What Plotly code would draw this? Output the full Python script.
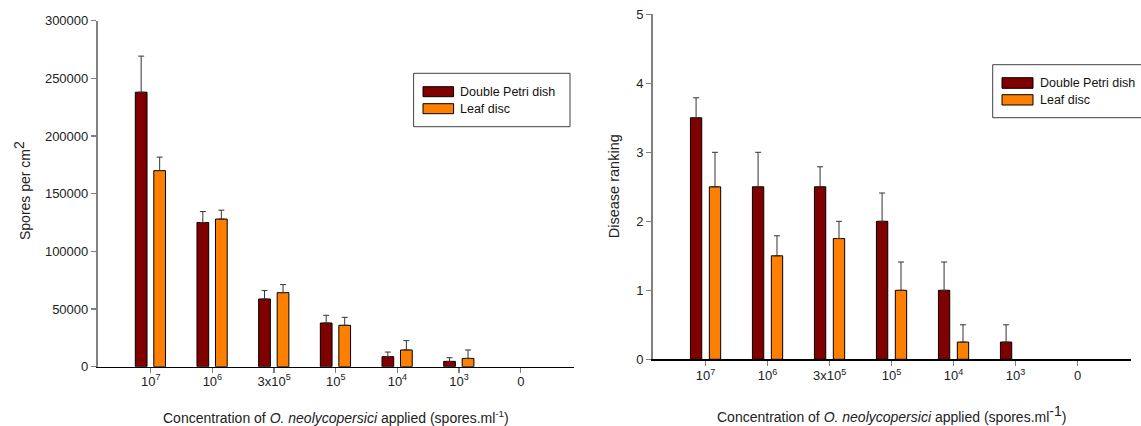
import plotly.graph_objects as go

W, H = 1141, 426

categories = ["10<sup>7</sup>", "10<sup>6</sup>", "3x10<sup>5</sup>", "10<sup>5</sup>",
              "10<sup>4</sup>", "10<sup>3</sup>", "0"]
series_names = ["Double Petri dish", "Leaf disc"]

# Left chart: spores per cm2 (mean and upper error)
spores_dp = [238000, 125000, 58700, 37900, 8700, 4600, 0]
spores_dp_err = [31300, 9500, 7300, 6700, 4000, 3200, 0]
spores_ld = [170000, 128000, 64200, 35900, 14500, 7200, 0]
spores_ld_err = [11700, 7700, 7000, 6900, 8100, 7300, 0]

# Right chart: disease ranking (mean and upper error)
rank_dp = [3.5, 2.5, 2.5, 2.0, 1.0, 0.25, 0]
rank_dp_err = [0.29, 0.5, 0.29, 0.41, 0.41, 0.25, 0]
rank_ld = [2.5, 1.5, 1.75, 1.0, 0.25, 0, 0]
rank_ld_err = [0.5, 0.29, 0.25, 0.41, 0.25, 0, 0]

COL_DP = "#800000"
COL_LD = "#FF8000"
FONT = "Liberation Sans, Arial, sans-serif"


def px(x):
    return x / W


def py(y):
    return 1 - y / H


def bar_vals(vals):
    # a zero mean is drawn as no bar at all
    return [v if v else None for v in vals]


def err_arr(vals, errs):
    return [e if (v or e) else None for v, e in zip(vals, errs)]


fig = go.Figure()


def add_bar(vals, errs, color, xa, ya, offset, width, name):
    fig.add_trace(go.Bar(
        x=categories, y=bar_vals(vals), name=name, xaxis=xa, yaxis=ya,
        offset=offset, width=width,
        marker=dict(color=color, line=dict(color="black", width=1)),
        error_y=dict(type="data", symmetric=False,
                     array=err_arr(vals, errs), arrayminus=[0] * len(vals),
                     color="#333333", thickness=1, width=3),
        showlegend=False, hoverinfo="skip",
    ))


add_bar(spores_dp, spores_dp_err, COL_DP, "x", "y", -0.25, 0.19, series_names[0])
add_bar(spores_ld, spores_ld_err, COL_LD, "x", "y", 0.05, 0.19, series_names[1])
add_bar(rank_dp, rank_dp_err, COL_DP, "x2", "y2", -0.245, 0.183, series_names[0])
add_bar(rank_ld, rank_ld_err, COL_LD, "x2", "y2", 0.06, 0.183, series_names[1])

xcommon = dict(type="category", showgrid=False, zeroline=False, automargin=False,
               showline=True, linecolor="black", linewidth=1.3,
               ticks="outside", ticklen=5, tickcolor="#808080", tickwidth=1.3,
               tickfont=dict(family=FONT, size=13, color="#222"),
               fixedrange=True)
ycommon = dict(showgrid=False, zeroline=False, showline=True, automargin=False,
               linecolor="#808080", linewidth=1.6,
               ticks="outside", ticklen=5, tickcolor="#808080", tickwidth=1.3,
               tickfont=dict(family=FONT, size=13, color="#222"), fixedrange=True)

fig.update_layout(
    template="none",
    width=W, height=H,
    margin=dict(l=0, r=0, t=0, b=0, autoexpand=False),
    paper_bgcolor="white", plot_bgcolor="white",
    barmode="overlay",
    xaxis=dict(domain=[px(97.5), px(574)], range=[-0.863, 6.863], anchor="y",
               ticklabelstandoff=-3, **xcommon),
    yaxis=dict(domain=[py(366.7), py(20.7)], range=[0, 300000], dtick=50000,
               tickformat="d", anchor="x", **ycommon),
    xaxis2=dict(domain=[px(652.6), px(1130.6)], range=[-0.855, 6.855], anchor="y2",
                ticklabelstandoff=-1, **xcommon),
    yaxis2=dict(domain=[py(359.3), py(14.3)], range=[0, 5], dtick=1,
                anchor="x2", **ycommon),
)

shapes = []
annotations = []

# Axis titles
title_font = dict(family=FONT, size=14, color="#222")
annotations.append(dict(
    text="Concentration of <i>O. neolycopersici</i> applied (spores.ml<sup>-1</sup>)",
    x=px(335.7), y=py(417), xref="paper", yref="paper", showarrow=False,
    xanchor="center", yanchor="middle", font=title_font))
annotations.append(dict(
    text="Concentration of <i>O. neolycopersici</i> applied (spores.ml<sup><span style='font-size:14px'>-1</span></sup>)",
    x=px(891.6), y=py(414), xref="paper", yref="paper", showarrow=False,
    xanchor="center", yanchor="middle", font=title_font))
annotations.append(dict(
    text="Spores per cm<sup><span style='font-size:14px'>2</span></sup>",
    x=px(22), y=py(191), xref="paper", yref="paper", showarrow=False,
    textangle=-90, xanchor="center", yanchor="middle", font=title_font))
annotations.append(dict(
    text="Disease ranking",
    x=px(613.7), y=py(186.5), xref="paper", yref="paper", showarrow=False,
    textangle=-90, xanchor="center", yanchor="middle",
    font=dict(family=FONT, size=14.5, color="#222")))

# Legends drawn as boxes
legend_font = dict(family=FONT, size=12.5, color="#111")


def legend(box, sw_x, rows, text_x):
    x0, y0, x1, y1 = box
    shapes.append(dict(type="rect", xref="paper", yref="paper",
                       x0=px(x0), x1=px(x1), y0=py(y1), y1=py(y0),
                       line=dict(color="#404040", width=1), fillcolor="white",
                       layer="above"))
    for (r0, r1), col, name in zip(rows, [COL_DP, COL_LD], series_names):
        shapes.append(dict(type="rect", xref="paper", yref="paper",
                           x0=px(sw_x[0]), x1=px(sw_x[1]), y0=py(r1), y1=py(r0),
                           line=dict(color="black", width=1), fillcolor=col,
                           layer="above"))
        annotations.append(dict(text=name, x=px(text_x), y=py((r0 + r1) / 2),
                                xref="paper", yref="paper", showarrow=False,
                                xanchor="left", yanchor="middle", font=legend_font))


legend((413.6, 73.3, 570, 126.7), (423, 453.6), [(86.7, 96.7), (103.7, 113.7)], 458)
legend((992.7, 64.7, 1148, 117.7), (1002, 1033), [(77.7, 88.3), (94.7, 105)], 1038)

fig.update_layout(shapes=shapes, annotations=annotations)

fig.write_html("out.html", config={"displayModeBar": False, "staticPlot": True},
               post_script="document.body.style.margin='0';document.body.style.overflow='hidden';")
